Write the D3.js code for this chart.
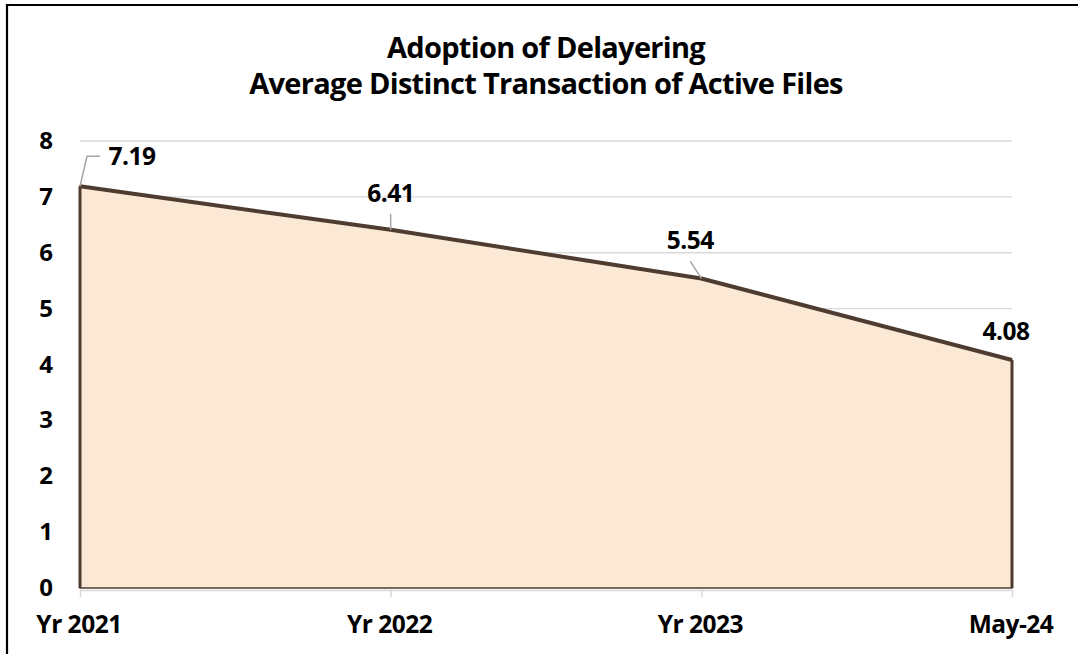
<!DOCTYPE html>
<html><head><meta charset="utf-8">
<script src="https://cdn.jsdelivr.net/npm/d3@7"></script>
<style>body{margin:0;background:#fff}svg{display:block}text{font-family:"Open Sans",sans-serif;font-weight:bold;fill:#000}</style>
</head><body>
<script>
const categories = ["Yr 2021","Yr 2022","Yr 2023","May-24"];
const values = [7.19, 6.41, 5.54, 4.08];
const yTicks = [0,1,2,3,4,5,6,7,8];
const titleLines = ["Adoption of Delayering","Average Distinct Transaction of Active Files"];

const W=1078,H=654;
const svg=d3.select("body").append("svg").attr("width",W).attr("height",H);
svg.append("path").attr("d","M7,660 L7,5 L1085,5").attr("fill","none")
  .attr("stroke","#000").attr("stroke-width",2.2);

const x=d3.scalePoint().domain(categories).range([80,1012]);
const y=d3.scaleLinear().domain([0,8]).range([588,141]);

svg.append("g").selectAll("line").data(yTicks.filter(d=>d>0)).join("line")
  .attr("x1",80).attr("x2",1012).attr("y1",d=>y(d)).attr("y2",d=>y(d))
  .attr("stroke","#d9d9d9").attr("stroke-width",1.3);

const data=categories.map((c,i)=>({c,v:values[i]}));
const area=d3.area().x(d=>x(d.c)).y0(y(0)).y1(d=>y(d.v));
svg.append("path").datum(data).attr("d",area).attr("fill","#fce9d5")
  .attr("stroke","#4f3c31").attr("stroke-width",1.5);
const line=d3.line().x(d=>x(d.c)).y(d=>y(d.v));
svg.append("path").datum(data).attr("d",line).attr("fill","none")
  .attr("stroke","#4f3c31").attr("stroke-width",4).attr("stroke-linejoin","round");
svg.append("g").selectAll("line").data([data[0],data[3]]).join("line")
  .attr("x1",d=>x(d.c)).attr("x2",d=>x(d.c)).attr("y1",d=>y(d.v)).attr("y2",y(0))
  .attr("stroke","#4f3c31").attr("stroke-width",3);

const xa=svg.append("g").attr("transform",`translate(0,${y(0)+2})`)
  .call(d3.axisBottom(x).tickSize(7).tickSizeOuter(0).tickFormat(""));
xa.selectAll("path,line").attr("stroke","#d9d9d9").attr("stroke-width",1.5);
svg.append("g").selectAll("text").data(categories).join("text")
  .attr("x",d=>x(d)-1).attr("y",633).attr("text-anchor","middle")
  .attr("font-size",24.5).attr("letter-spacing",-0.5).text(d=>d);

svg.append("g").selectAll("text").data(yTicks).join("text")
  .attr("x",46).attr("y",d=>y(d)+8).attr("text-anchor","middle")
  .attr("font-size",24).text(d=>d);

const lblPos=[{dx:52,dy:-21},{dx:0,dy:-28},{dx:-11,dy:-29},{dx:-6,dy:-20}];
svg.append("g").selectAll("text").data(data).join("text")
  .attr("x",(d,i)=>x(d.c)+lblPos[i].dx).attr("y",(d,i)=>y(d.v)+lblPos[i].dy)
  .attr("text-anchor","middle").attr("font-size",24.5).attr("letter-spacing",-0.5)
  .text(d=>d.v.toFixed(2));
const leaders=[
  [[0,0],[7,-30],[20,-30]],
  [[0,0],[0,-16]],
  [[0,0],[-11,-17]]
];
leaders.forEach((pts,i)=>{
  const px=x(data[i].c),py=y(data[i].v);
  svg.append("path").attr("d",d3.line()(pts.map(p=>[px+p[0],py+p[1]])))
    .attr("fill","none").attr("stroke","#a6a6a6").attr("stroke-width",1.5);
});

svg.append("g").selectAll("text").data(titleLines).join("text")
  .attr("x",546).attr("y",(d,i)=>58+i*36).attr("text-anchor","middle")
  .attr("font-size",29).attr("letter-spacing",-0.7).text(d=>d);
</script>
</body></html>
